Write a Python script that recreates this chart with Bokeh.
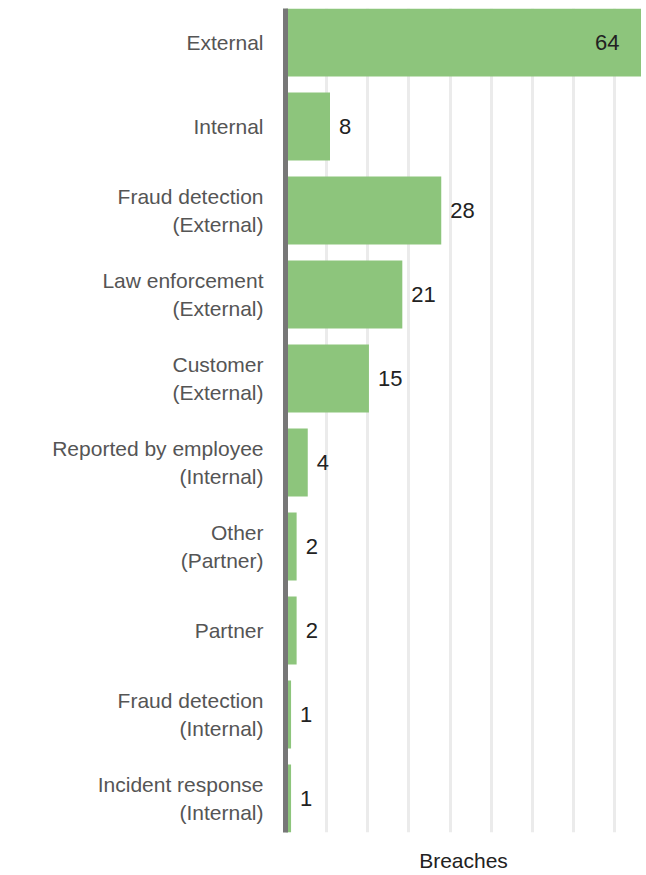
from bokeh.plotting import figure
from bokeh.models import ColumnDataSource, Range1d, FixedTicker
from bokeh.core.properties import value
from bokeh.embed import file_html
from bokeh.resources import INLINE

# ---- data ----
categories = [
    "External",
    "Internal",
    "Fraud detection\n(External)",
    "Law enforcement\n(External)",
    "Customer\n(External)",
    "Reported by employee\n(Internal)",
    "Other\n(Partner)",
    "Partner",
    "Fraud detection\n(Internal)",
    "Incident response\n(Internal)",
]
breaches = [64, 8, 28, 21, 15, 4, 2, 2, 1, 1]
x_title = "Breaches"

# ---- styling ----
FONT = "Liberation Sans"
BAR_COLOR = "#8dc57c"
BAR_H = 0.81
GRID_STEP = 7.4

n = len(categories)
idx = list(range(n))
vmax = max(breaches)

p = figure(
    width=641, height=874,
    output_backend="svg", toolbar_location=None,
    x_range=Range1d(0, vmax),
    y_range=Range1d(n - 1 + BAR_H / 2, -BAR_H / 2),
    min_border_left=285, min_border_right=0, min_border_top=8,
    min_border_bottom=10,
)
p.outline_line_color = None
p.background_fill_color = "white"
p.border_fill_color = "white"

src = ColumnDataSource(dict(y=idx, v=breaches))
p.hbar(y="y", right="v", left=0, height=BAR_H, source=src,
       fill_color=BAR_COLOR, line_color=None)

out_i = [i for i in idx if breaches[i] != vmax]
in_i = [i for i in idx if breaches[i] == vmax]
src_out = ColumnDataSource(dict(y=[idx[i] for i in out_i], v=[breaches[i] for i in out_i],
                                lab=[str(breaches[i]) for i in out_i]))
src_in = ColumnDataSource(dict(y=[idx[i] for i in in_i], v=[breaches[i] for i in in_i],
                               lab=[str(breaches[i]) for i in in_i]))
p.text(x="v", y="y", text="lab", source=src_out, x_offset=9,
       text_align="left", text_baseline="middle",
       text_font=value(FONT), text_font_size="22px", text_color="#222222")
p.text(x="v", y="y", text="lab", source=src_in, x_offset=-22,
       text_align="right", text_baseline="middle",
       text_font=value(FONT), text_font_size="22px", text_color="#222222")

# grid
p.ygrid.grid_line_color = None
p.xgrid.ticker = FixedTicker(ticks=[GRID_STEP * k for k in range(1, 9)])
p.xgrid.grid_line_color = "#ebebeb"
p.xgrid.grid_line_width = 3

# y axis
ya = p.yaxis[0]
ya.ticker = FixedTicker(ticks=idx)
ya.major_label_overrides = {i: c for i, c in zip(idx, categories)}
ya.axis_line_color = "#777777"
ya.axis_line_width = 5
ya.major_tick_line_color = None
ya.minor_tick_line_color = None
ya.major_tick_out = 0
ya.major_tick_in = 0
ya.major_label_standoff = 22
ya.major_label_text_font = FONT
ya.major_label_text_font_size = "21px"
ya.major_label_text_color = "#555555"
ya.major_label_text_line_height = 1.18

# x axis: title only
xa = p.xaxis[0]
xa.ticker = FixedTicker(ticks=[])
xa.axis_line_color = None
xa.major_tick_line_color = None
xa.minor_tick_line_color = None
xa.major_tick_out = 0
xa.major_tick_in = 0
xa.major_label_standoff = 0
xa.axis_label = x_title
xa.axis_label_standoff = 16
xa.axis_label_text_font = FONT
xa.axis_label_text_font_size = "21px"
xa.axis_label_text_font_style = "normal"
xa.axis_label_text_color = "#222222"

open("out.html", "w").write(file_html(p, INLINE))
